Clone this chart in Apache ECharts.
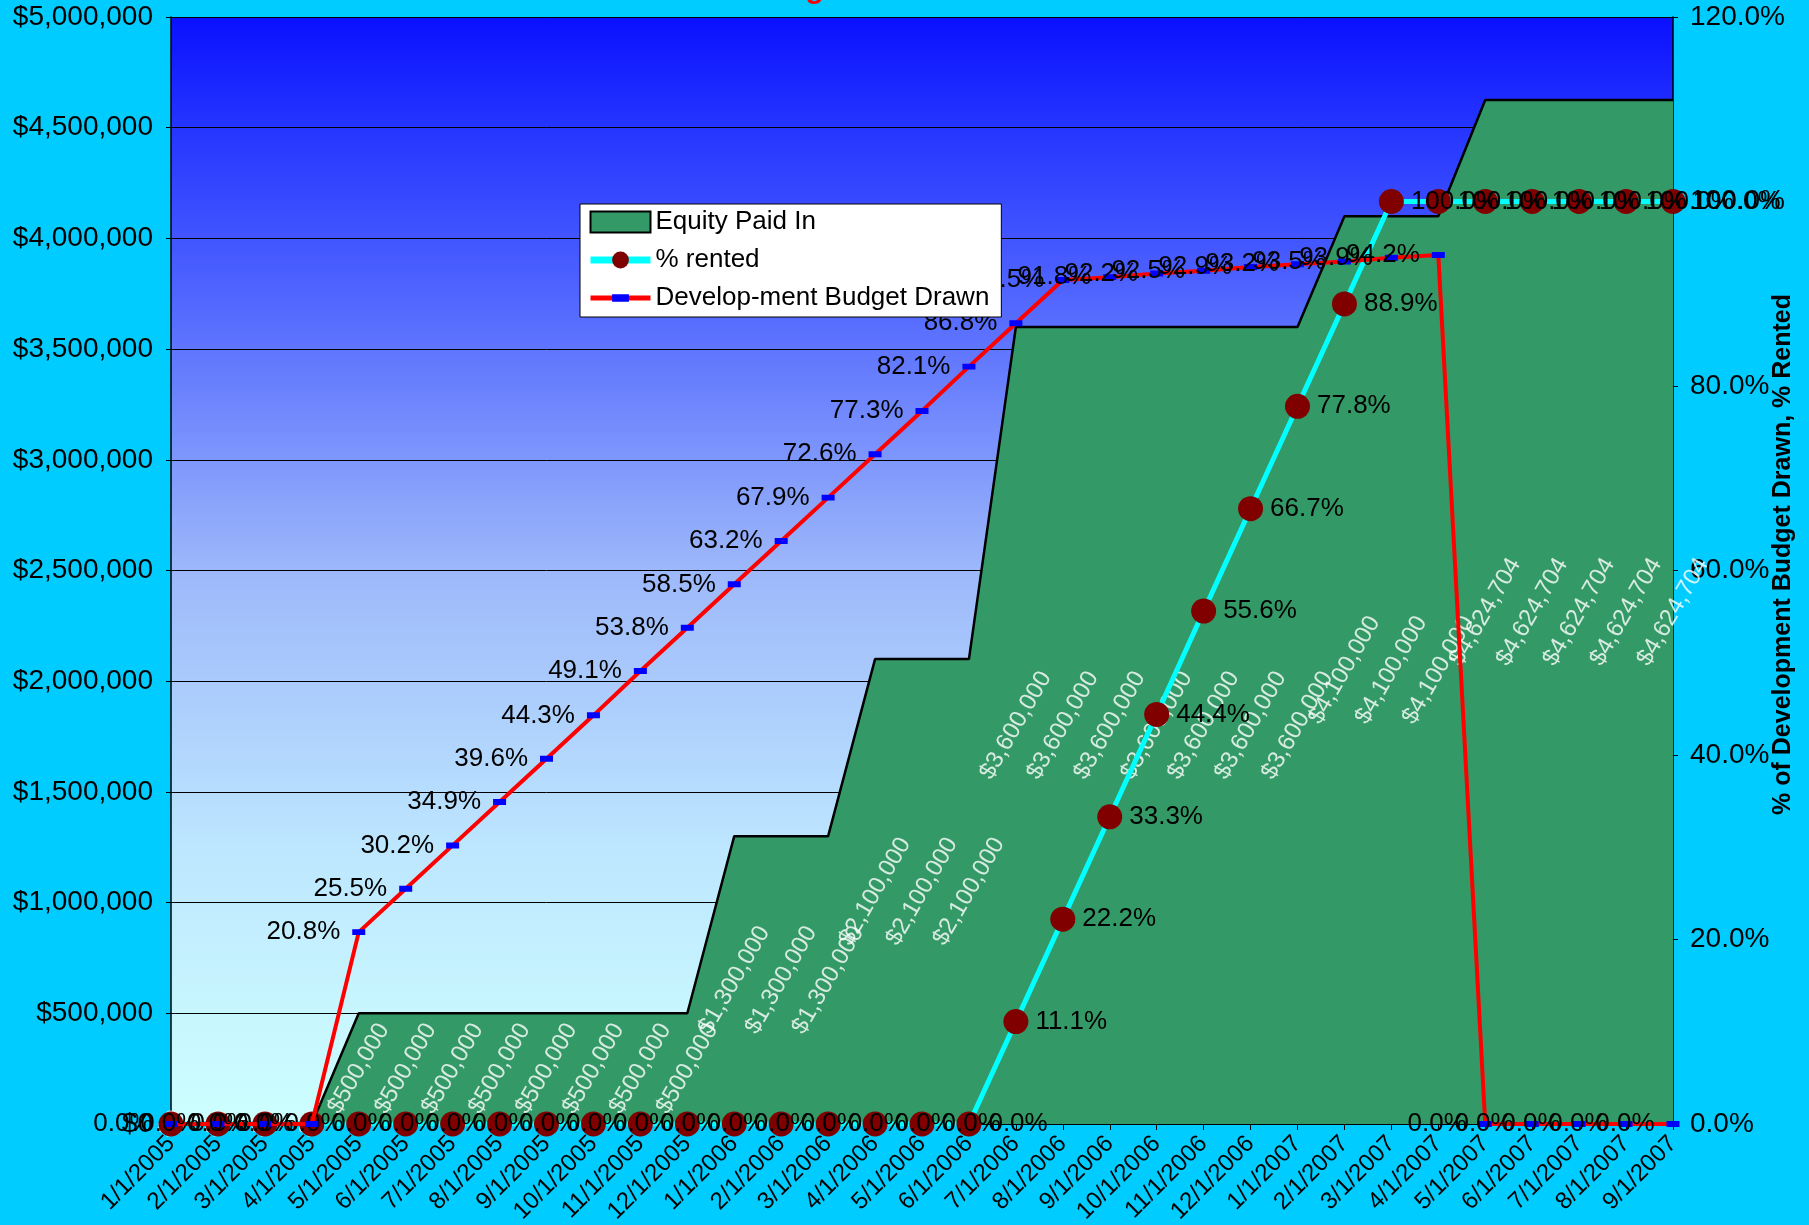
<!DOCTYPE html>
<html><head><meta charset="utf-8">
<script src="https://cdn.jsdelivr.net/npm/echarts@6/dist/echarts.min.js"></script>
<style>html,body{margin:0;padding:0;background:#00CCFF;}#c{width:1809px;height:1225px;}</style>
</head><body><div id="c"></div>
<script>
const categories = ['1/1/2005','2/1/2005','3/1/2005','4/1/2005','5/1/2005','6/1/2005','7/1/2005','8/1/2005','9/1/2005','10/1/2005','11/1/2005','12/1/2005',
  '1/1/2006','2/1/2006','3/1/2006','4/1/2006','5/1/2006','6/1/2006','7/1/2006','8/1/2006','9/1/2006','10/1/2006','11/1/2006','12/1/2006',
  '1/1/2007','2/1/2007','3/1/2007','4/1/2007','5/1/2007','6/1/2007','7/1/2007','8/1/2007','9/1/2007'];
const equityPaidIn = [0,0,0,0,500000,500000,500000,500000,500000,500000,500000,500000,
  1300000,1300000,1300000,2100000,2100000,2100000,3600000,3600000,3600000,3600000,3600000,3600000,
  3600000,4100000,4100000,4100000,4624704,4624704,4624704,4624704,4624704];
const pctRented = [0,0,0,0,0,0,0,0,0,0,0,0,0,0,0,0,0,0,11.1,22.2,33.3,44.4,55.6,66.7,77.8,88.9,100,100,100,100,100,100,100];
const devBudgetDrawn = [0,0,0,0,20.8,25.5,30.2,34.9,39.6,44.3,49.1,53.8,58.5,63.2,67.9,72.6,77.3,82.1,86.8,91.5,91.8,92.2,92.5,92.9,93.2,93.5,93.9,94.2,0,0,0,0,0];
const leftAxis = {min: 0, max: 5000000, interval: 500000};
const rightAxis = {min: 0, max: 120, interval: 20};
const titleText = 'Total Cost Basis Budget Drawn and Rental Status';
const rightAxisName = '% of Development Budget Drawn, % Rented';

const FONT = "'Liberation Sans', Arial, sans-serif";
function money(v){ return '$' + String(Math.round(v)).replace(/\B(?=(\d{3})+(?!\d))/g, ','); }
// flat dash marker inside a square bounding box (so legend icon stays flat too)
const DASH = 'path://M0,0L0.01,0Z M0,3.25H12V8.75H0Z M12,12L11.99,12Z';

const chart = echarts.init(document.getElementById('c'), null, {renderer: 'canvas'});
chart.setOption({
  backgroundColor: '#00CCFF',
  animation: false,
  textStyle: {fontFamily: FONT},
  title: {text: titleText, left: 506, top: -25, padding: 0,
    textStyle: {color: '#FF0000', fontSize: 30, fontWeight: 'bold', fontFamily: FONT}},
  legend: {
    left: 580, top: 204, orient: 'vertical', selectedMode: false, z: 20,
    backgroundColor: '#FFFFFF', borderColor: '#000000', borderWidth: 1,
    padding: [5, 12, 6, 7], itemGap: 12, itemWidth: 60, itemHeight: 21,
    textStyle: {color: '#000', fontSize: 26, fontFamily: FONT},
    data: [
      {name: 'Equity Paid In', icon: 'rect', itemStyle: {color: '#339966', borderColor: '#000', borderWidth: 2}},
      {name: '% rented', lineStyle: {width: 7}},
      {name: 'Develop-ment Budget Drawn', lineStyle: {width: 5}}
    ]
  },
  grid: {left: 171, right: 136, top: 17, bottom: 101, show: true, borderWidth: 0,
    outerBoundsMode: 'none', containLabel: false,
    backgroundColor: {type: 'linear', x: 0, y: 0, x2: 0, y2: 1, colorStops: [
      {offset: 0, color: '#0A10FF'}, {offset: 0.1, color: '#2535FF'}, {offset: 0.25, color: '#5065FF'},
      {offset: 0.5, color: '#9DB8FA'}, {offset: 0.75, color: '#BDE6FF'}, {offset: 0.9, color: '#C8F6FE'}, {offset: 1, color: '#CCFFFF'}]}},
  xAxis: {
    type: 'category', data: categories, boundaryGap: false,
    axisLine: {show: true, lineStyle: {color: '#000', width: 1.5}},
    axisTick: {show: true, inside: false, length: 6, lineStyle: {color: '#000'}},
    axisLabel: {rotate: 45, interval: 0, margin: 16, color: '#000', fontSize: 24, fontFamily: FONT},
    splitLine: {show: false}
  },
  yAxis: [
    {type: 'value', min: leftAxis.min, max: leftAxis.max, interval: leftAxis.interval, position: 'left',
      axisLine: {show: true, lineStyle: {color: '#000', width: 1.5}},
      axisTick: {show: true, length: 5, lineStyle: {color: '#000'}},
      axisLabel: {formatter: v => money(v), color: '#000', fontSize: 28, margin: 18, fontFamily: FONT},
      splitLine: {show: true, lineStyle: {color: '#000', width: 1}}},
    {type: 'value', min: rightAxis.min, max: rightAxis.max, interval: rightAxis.interval, position: 'right',
      name: rightAxisName, nameLocation: 'middle', nameRotate: 90, nameGap: 98, nameMoveOverlap: false,
      nameTextStyle: {color: '#000', fontSize: 25, fontWeight: 'bold', fontFamily: FONT, padding: [0, 0, 0, 32]},
      axisLine: {show: true, lineStyle: {color: '#000', width: 1.5}},
      axisTick: {show: true, length: 5, lineStyle: {color: '#000'}},
      axisLabel: {formatter: v => v.toFixed(1) + '%', color: '#000', fontSize: 28, margin: 17, fontFamily: FONT},
      splitLine: {show: false}}
  ],
  series: [
    {name: 'Equity Paid In', type: 'line', yAxisIndex: 0, data: equityPaidIn, symbol: 'none', z: 1,
      itemStyle: {color: '#339966'},
      lineStyle: {color: '#000', width: 2.5},
      areaStyle: {color: '#339966', opacity: 1}},
    {name: 'Equity labels', type: 'scatter', yAxisIndex: 0, data: equityPaidIn.map(v => v / 2), z: 2,
      symbolSize: 1, itemStyle: {color: 'rgba(0,0,0,0)'}, silent: true,
      label: {show: true, position: 'inside', rotate: 60, color: '#FFFFFF', fontSize: 24, fontFamily: FONT,
        formatter: p => money(equityPaidIn[p.dataIndex])}},
    {name: '% rented', type: 'line', yAxisIndex: 1, data: pctRented, z: 3,
      symbol: 'circle', symbolSize: 25, showAllSymbol: true,
      itemStyle: {color: '#800000'},
      lineStyle: {color: '#00FFFF', width: 5},
      label: {show: true, position: 'right', distance: 7, color: '#000', fontSize: 26, fontFamily: FONT,
        formatter: p => p.value.toFixed(1) + '%'}},
    {name: 'Develop-ment Budget Drawn', type: 'line', yAxisIndex: 1, data: devBudgetDrawn, z: 4,
      symbol: DASH, symbolSize: 13, showAllSymbol: true,
      itemStyle: {color: '#0000FF'},
      lineStyle: {color: '#FF0000', width: 4},
      label: {show: true, position: 'left', distance: 12, color: '#000', fontSize: 26, fontFamily: FONT,
        formatter: p => p.value.toFixed(1) + '%'}}
  ]
});
</script></body></html>
